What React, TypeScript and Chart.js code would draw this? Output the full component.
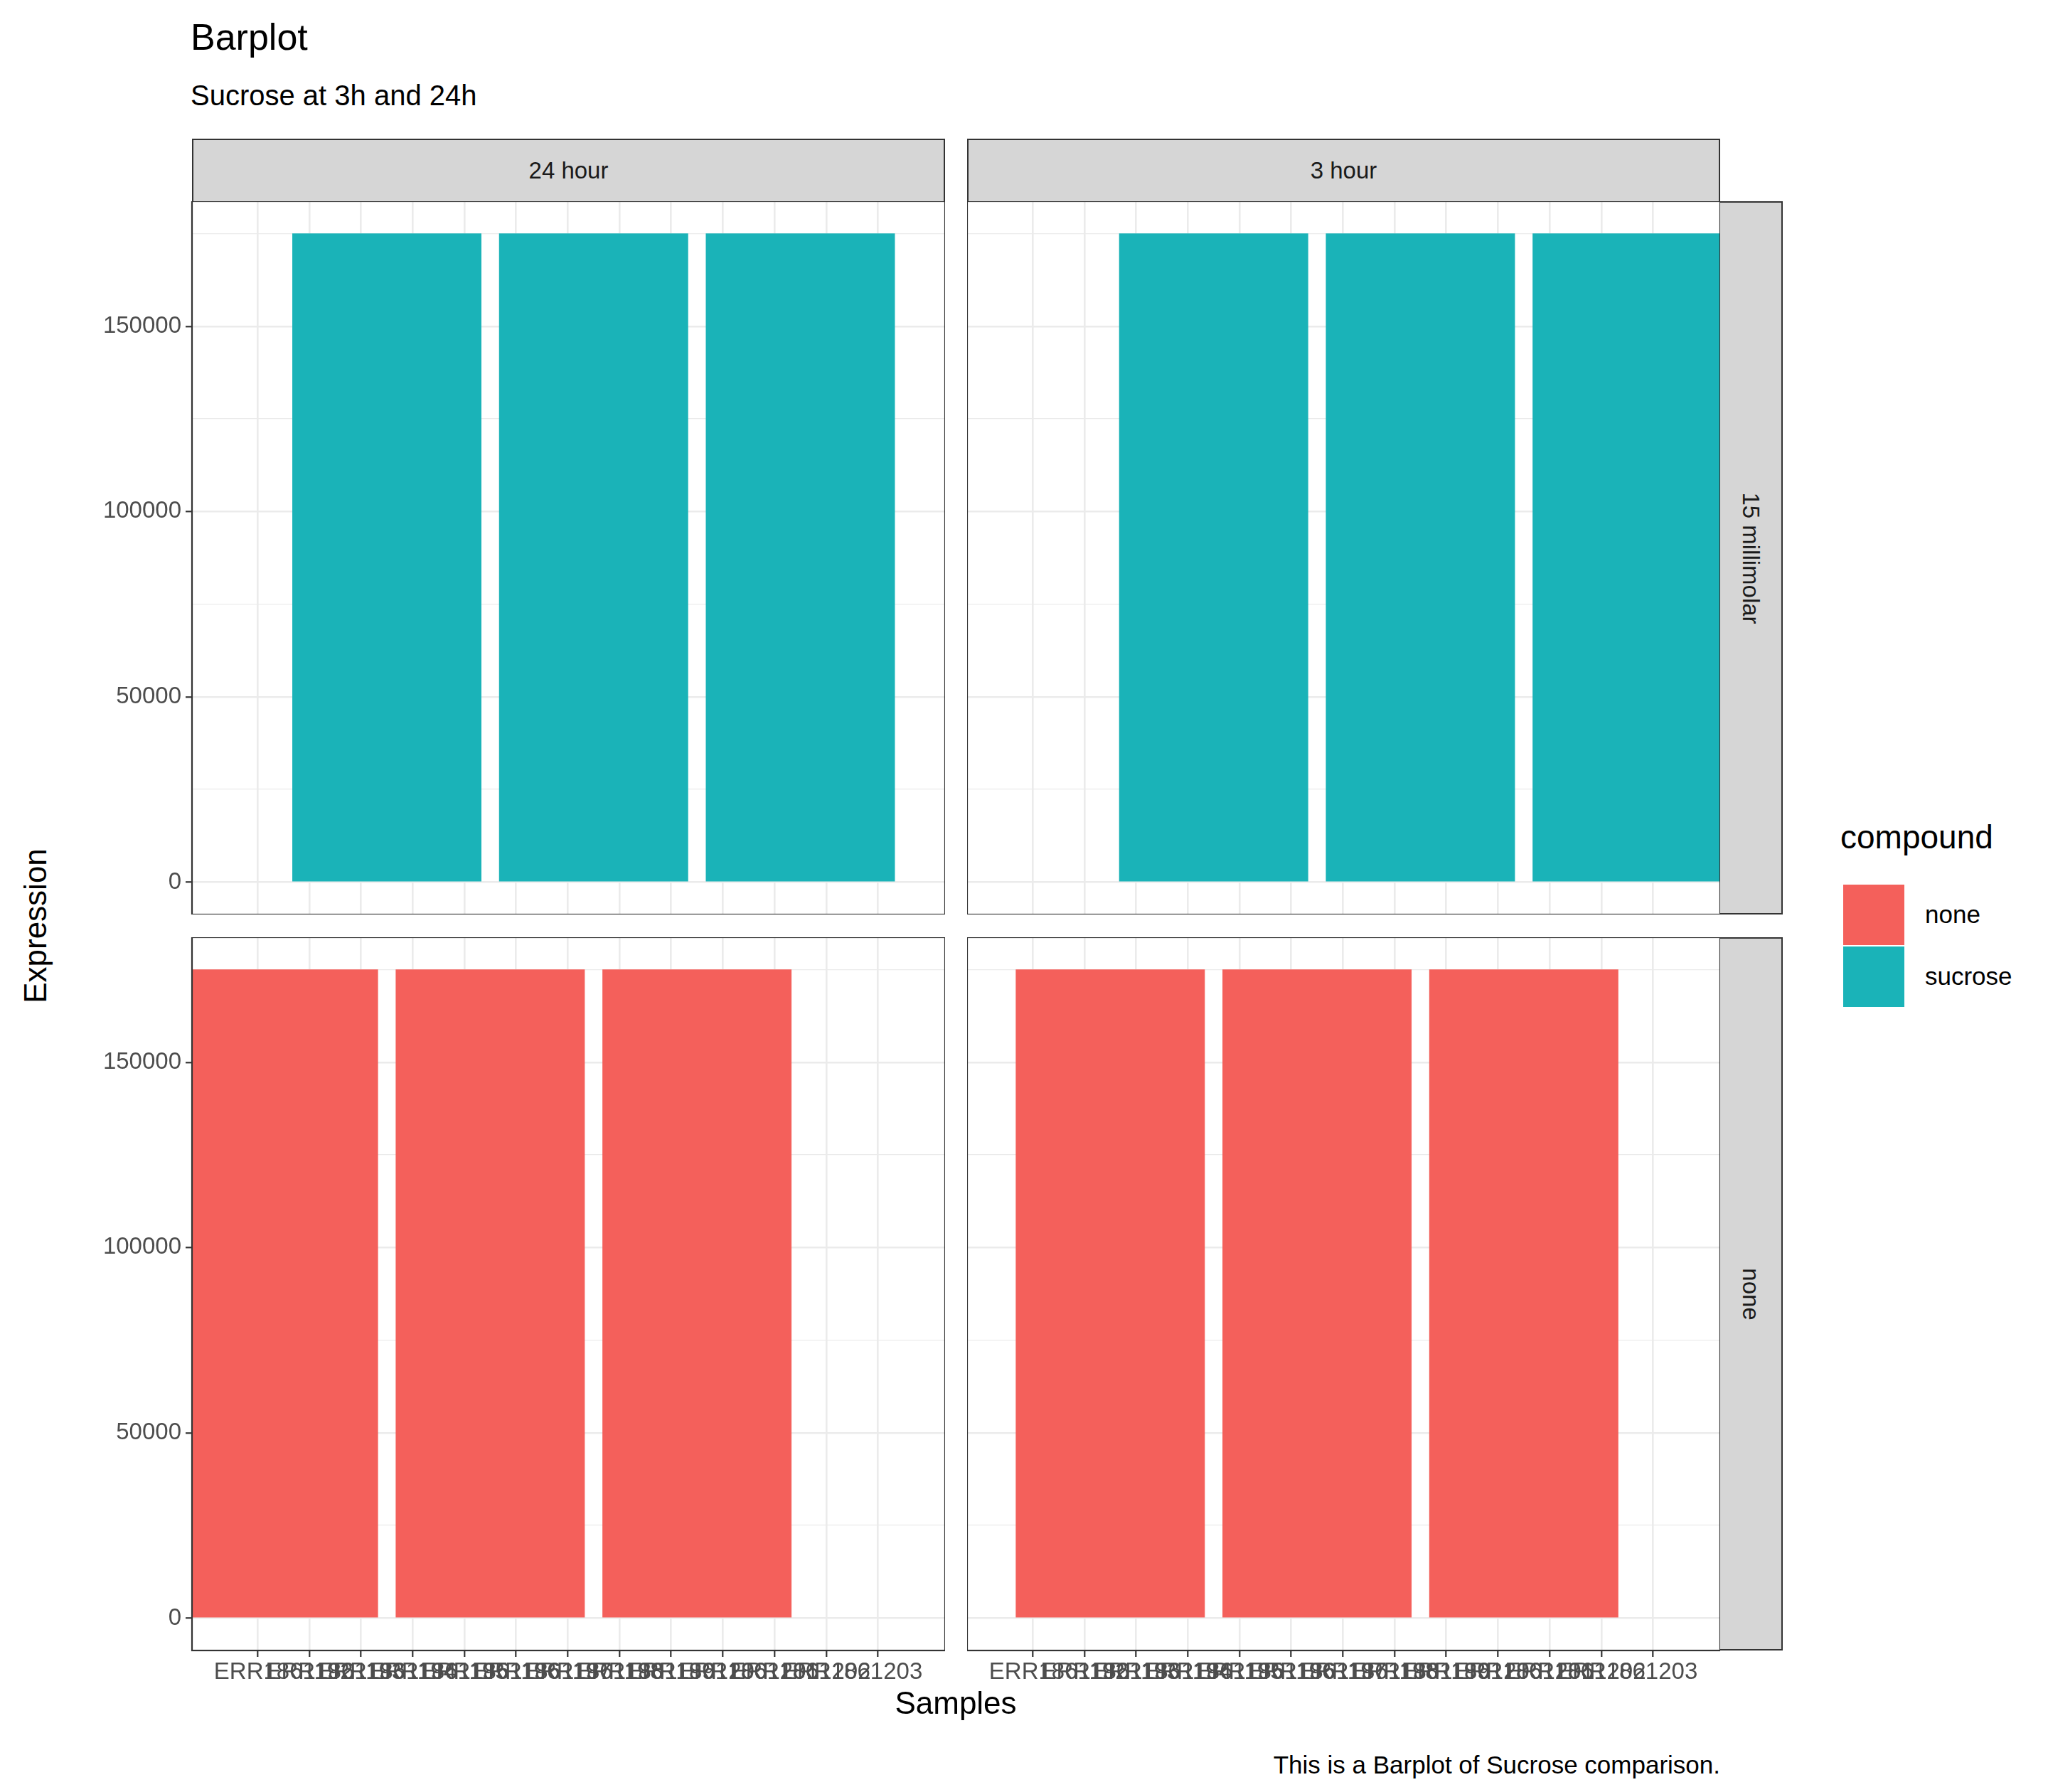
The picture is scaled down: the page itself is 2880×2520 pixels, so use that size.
import { Chart, registerables } from "chart.js"
import { useEffect, useRef } from "react"

Chart.register(...registerables)

const samples = [
  "ERR1861192", "ERR1861193", "ERR1861194", "ERR1861195", "ERR1861196", "ERR1861197",
  "ERR1861198", "ERR1861199", "ERR1861200", "ERR1861201", "ERR1861202", "ERR1861203",
]
const timeStrips = ["24 hour", "3 hour"]
const concStrips = ["15 millimolar", "none"]
const compounds = ["none", "sucrose"]
const compoundColors = ["#F4605B", "#1AB3B8"]
// bar centres (sample position, 1-based) per panel [row][col], and expression per bar
const barCenters = [
  [[3, 7, 11], [4, 8, 12]],
  [[1, 5, 9], [2, 6, 10]],
]
const sucroseValues = [175000, 175000, 175000]
const noneValues = [175000, 175000, 175000]
const yTicks = [0, 50000, 100000, 150000]

const PX = [270, 1360]
const PY = [283, 1318]
const PW = 1059
const PH = 1003
const AXW = 150
const AXH = 100
const FONT = "Liberation Sans, Arial, sans-serif"

const borderPlugin = {
  id: "panelBorder",
  afterDraw(chart: any) {
    const { left, top, width, height } = chart.chartArea
    const c = chart.ctx
    c.save()
    c.strokeStyle = "#333333"
    c.lineWidth = 2.2
    c.strokeRect(left, top, width, height)
    c.restore()
  },
}

const Panel = ({ row, col }: { row: number; col: number }) => {
  const ref = useRef<HTMLCanvasElement>(null)
  const showY = col === 0
  const showX = row === 1
  const w = PW + (showY ? AXW : 0)
  const h = PH + (showX ? AXH : 0)

  useEffect(() => {
    if (!ref.current) return
    const centers = barCenters[row][col]
    const values = row === 0 ? sucroseValues : noneValues
    const color = compoundColors[row === 0 ? 1 : 0]
    const chart = new Chart(ref.current, {
      type: "bar",
      data: {
        datasets: [
          {
            data: centers.map((c, i) => ({ x: c, y: values[i] })),
            backgroundColor: color,
            barThickness: (ctx: any) => {
              const s = ctx.chart.scales.x
              return Math.abs(s.getPixelForValue(3.65) - s.getPixelForValue(0))
            },
          } as any,
        ],
      },
      options: {
        responsive: false,
        devicePixelRatio: 1,
        animation: false,
        layout: { padding: 0 },
        plugins: { legend: { display: false }, tooltip: { enabled: false } },
        scales: {
          x: {
            type: "linear",
            offset: false,
            min: -0.77,
            max: 13.8,
            afterBuildTicks: (s: any) => {
              s.ticks = samples.map((_, i) => ({ value: i + 1 }))
            },
            afterFit: (s: any) => {
              s.height = showX ? AXH : 0
              s.paddingLeft = 0
              s.paddingRight = 0
            },
            border: { display: false },
            grid: {
              color: "#ebebeb",
              lineWidth: 2.6,
              drawTicks: showX,
              tickLength: 9,
              tickColor: "#333333",
              tickWidth: 2.2,
            } as any,
            ticks: {
              display: showX,
              autoSkip: false,
              maxRotation: 0,
              minRotation: 0,
              padding: 2,
              color: "#4d4d4d",
              font: { family: FONT, size: 33 },
              callback: (v: any) => samples[Math.round(v) - 1] ?? "",
            },
          },
          y: {
            min: -8750,
            max: 183750,
            afterBuildTicks: (s: any) => {
              const t = []
              for (let v = 0; v <= 175000; v += 25000) t.push({ value: v })
              s.ticks = t
            },
            afterFit: (s: any) => {
              s.width = showY ? AXW : 0
              s.paddingTop = 0
              s.paddingBottom = 0
            },
            border: { display: false },
            grid: {
              color: "#ebebeb",
              lineWidth: (c: any) => (c.tick && c.tick.value % 50000 === 0 ? 2.6 : 1.3),
              drawTicks: showY,
              tickLength: 9,
              tickColor: (c: any) => (c.tick && c.tick.value % 50000 === 0 ? "#333333" : "rgba(0,0,0,0)"),
              tickWidth: 2.2,
            } as any,
            ticks: {
              display: showY,
              padding: 6,
              color: "#4d4d4d",
              font: { family: FONT, size: 33 },
              callback: (v: any) => (yTicks.includes(v) ? String(v) : ""),
            },
          },
        },
      },
      plugins: [borderPlugin],
    })
    return () => chart.destroy()
  }, [row, col])

  return (
    <canvas
      ref={ref}
      width={w}
      height={h}
      style={{ position: "absolute", left: PX[col] - (showY ? AXW : 0), top: PY[row], width: w, height: h }}
    />
  )
}

const txt = (extra: any) => ({ position: "absolute", fontFamily: FONT, color: "#000", whiteSpace: "nowrap", ...extra })

const App = () => {
  return (
    <div style={{ position: "fixed", left: 0, top: 0, width: 2880, height: 2520, background: "#fff", overflow: "hidden" }}>
      <div style={txt({ left: 268, top: 22, fontSize: 52 })}>Barplot</div>
      <div style={txt({ left: 268, top: 112, fontSize: 40 })}>Sucrose at 3h and 24h</div>
      {timeStrips.map((s, i) => (
        <div
          key={s}
          style={txt({
            left: PX[i], top: 195, width: PW, height: 88, boxSizing: "border-box",
            background: "#d6d6d6", border: "2.2px solid #333", borderBottom: "none",
            display: "flex", alignItems: "center", justifyContent: "center", fontSize: 33, color: "#1a1a1a",
          })}
        >
          {s}
        </div>
      ))}
      {concStrips.map((s, i) => (
        <div
          key={s}
          style={txt({
            left: 2419, top: PY[i], width: 88, height: PH, boxSizing: "border-box",
            background: "#d6d6d6", border: "2.2px solid #333", borderLeft: "none",
            display: "flex", alignItems: "center", justifyContent: "center", fontSize: 33, color: "#1a1a1a",
          })}
        >
          <span style={{ transform: "rotate(90deg)", display: "inline-block" }}>{s}</span>
        </div>
      ))}
      {[0, 1].map((r) => [0, 1].map((c) => <Panel key={`${r}${c}`} row={r} col={c} />))}
      <div style={txt({ left: 50, top: 1302, fontSize: 44, transform: "translate(-50%,-50%) rotate(-90deg)" })}>
        Expression
      </div>
      <div style={txt({ left: 1344, top: 2370, fontSize: 44, transform: "translateX(-50%)" })}>Samples</div>
      <div style={txt({ right: 2880 - 2419, top: 2462, fontSize: 35 })}>This is a Barplot of Sucrose comparison.</div>
      <div style={txt({ left: 2588, top: 1150, fontSize: 46 })}>compound</div>
      {compounds.map((c, i) => (
        <div key={c}>
          <div style={{ position: "absolute", left: 2592, top: 1244 + i * 87, width: 86, height: 85, background: compoundColors[i] }} />
          <div style={txt({ left: 2707, top: 1266 + i * 87, fontSize: 35 })}>{c}</div>
        </div>
      ))}
    </div>
  )
}

export default App
